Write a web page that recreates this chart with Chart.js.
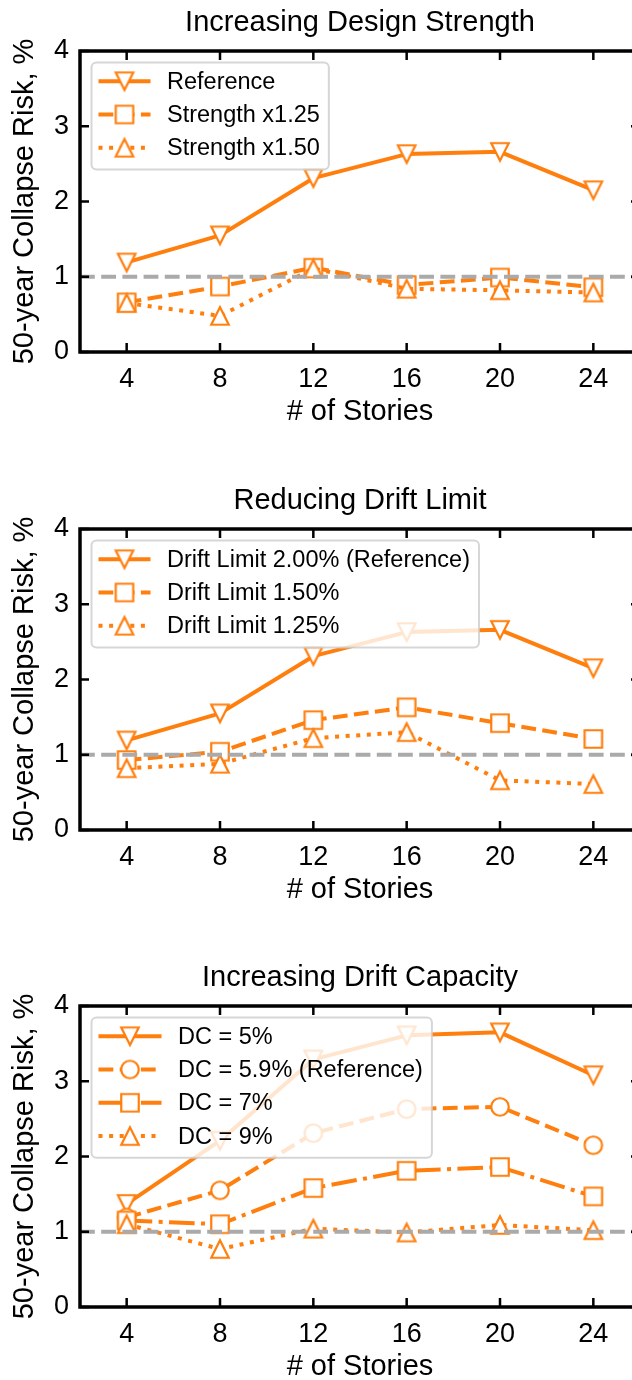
<!DOCTYPE html>
<html><head><meta charset="utf-8">
<script src="https://cdn.jsdelivr.net/npm/chart.js@4.4.1/dist/chart.umd.min.js"></script>
<style>
html,body{margin:0;padding:0;background:#fff;overflow:hidden;width:632px;height:1380px;}
#wrap{position:relative;width:632px;height:1380px;overflow:hidden;background:#fff;}
canvas{position:absolute;left:0;}
</style></head><body>
<div id="wrap">
<canvas id="c1" width="660" height="425" style="top:0px;width:660px;height:425px"></canvas>
<canvas id="c2" width="660" height="425" style="top:478px;width:660px;height:425px"></canvas>
<canvas id="c3" width="660" height="425" style="top:955px;width:660px;height:425px"></canvas>
</div>
<script>
// ---------------- data ----------------
const STORIES = [4, 8, 12, 16, 20, 24];
const X_TICKS = [4, 8, 12, 16, 20, 24];
const Y_TICKS = [0, 1, 2, 3, 4];
const X_RANGE = [2, 26];
const Y_RANGE = [0, 4];
const THRESHOLD = 1;

const TITLES = ['Increasing Design Strength', 'Reducing Drift Limit', 'Increasing Drift Capacity'];
const X_LABEL = '# of Stories';
const Y_LABEL = '50-year Collapse Risk, %';

// reference design (same in all panels)
const REFERENCE = [1.19, 1.55, 2.31, 2.63, 2.66, 2.15];
// panel 1
const STRENGTH_125 = [0.66, 0.87, 1.12, 0.89, 0.99, 0.86];
const STRENGTH_150 = [0.65, 0.48, 1.11, 0.84, 0.82, 0.79];
// panel 2
const DRIFT_LIMIT_150 = [0.93, 1.04, 1.46, 1.63, 1.42, 1.21];
const DRIFT_LIMIT_125 = [0.82, 0.88, 1.22, 1.30, 0.66, 0.61];
// panel 3
const DC_5 = [1.37, 2.21, 3.29, 3.61, 3.65, 3.08];
const DC_7 = [1.15, 1.10, 1.58, 1.81, 1.86, 1.47];
const DC_9 = [1.10, 0.77, 1.04, 0.99, 1.09, 1.02];

const LABELS_1 = ['Reference', 'Strength x1.25', 'Strength x1.50'];
const LABELS_2 = ['Drift Limit 2.00% (Reference)', 'Drift Limit 1.50%', 'Drift Limit 1.25%'];
const LABELS_3 = ['DC = 5%', 'DC = 5.9% (Reference)', 'DC = 7%', 'DC = 9%'];

// ---------------- style ----------------
const ORANGE = '#ff7f0e';
const GRAY = '#aaaaaa';
const FONT = "'Liberation Sans', Arial, Helvetica, sans-serif";
const LW = 4;
const DASHES = {
  solid: [],
  dashed: [3.7 * LW, 1.6 * LW],
  dotted: [1 * LW, 1.65 * LW],
  dashdot: [6.4 * LW, 1.6 * LW, 1 * LW, 1.6 * LW]
};
const MS = 17.5, MEW = 2.2;

function makeMarker(kind) {
  const S = 28, m = S / 2, h = MS / 2;
  const c = document.createElement('canvas');
  c.width = S; c.height = S;
  const g = c.getContext('2d');
  g.beginPath();
  if (kind === 'v') { g.moveTo(m, m + h); g.lineTo(m - h, m - h); g.lineTo(m + h, m - h); g.closePath(); }
  else if (kind === '^') { g.moveTo(m, m - h); g.lineTo(m + h, m + h); g.lineTo(m - h, m + h); g.closePath(); }
  else if (kind === 's') { g.rect(m - h, m - h, 2 * h, 2 * h); }
  else if (kind === 'o') { g.arc(m, m, h, 0, Math.PI * 2); }
  g.fillStyle = '#fff'; g.fill();
  g.lineWidth = MEW; g.lineJoin = 'miter'; g.strokeStyle = ORANGE; g.stroke();
  return c;
}
const MARKERS = { v: makeMarker('v'), '^': makeMarker('^'), s: makeMarker('s'), o: makeMarker('o') };

const PANELS = [
  { id: 'c1', title: TITLES[0], handleLen: 52, series: [
    { label: LABELS_1[0], values: REFERENCE, marker: 'v', dash: 'solid' },
    { label: LABELS_1[1], values: STRENGTH_125, marker: 's', dash: 'dashed' },
    { label: LABELS_1[2], values: STRENGTH_150, marker: '^', dash: 'dotted' }]},
  { id: 'c2', title: TITLES[1], handleLen: 52, series: [
    { label: LABELS_2[0], values: REFERENCE, marker: 'v', dash: 'solid' },
    { label: LABELS_2[1], values: DRIFT_LIMIT_150, marker: 's', dash: 'dashed' },
    { label: LABELS_2[2], values: DRIFT_LIMIT_125, marker: '^', dash: 'dotted' }]},
  { id: 'c3', title: TITLES[2], handleLen: 63, series: [
    { label: LABELS_3[0], values: DC_5, marker: 'v', dash: 'solid' },
    { label: LABELS_3[1], values: REFERENCE, marker: 'o', dash: 'dashed' },
    { label: LABELS_3[2], values: DC_7, marker: 's', dash: 'dashdot' },
    { label: LABELS_3[3], values: DC_9, marker: '^', dash: 'dotted' }]}
];

// ---------------- decorations plugin ----------------
const deco = {
  id: 'deco',
  afterDatasetsDraw(chart) {
    const ctx = chart.ctx, a = chart.chartArea;
    const xs = chart.scales.x, ys = chart.scales.y;
    ctx.save();
    ctx.strokeStyle = '#000'; ctx.lineWidth = 2.5; ctx.lineCap = 'butt';
    ctx.beginPath();
    X_TICKS.forEach(v => {
      const px = xs.getPixelForValue(v);
      ctx.moveTo(px, a.bottom); ctx.lineTo(px, a.bottom - 9);
      ctx.moveTo(px, a.top); ctx.lineTo(px, a.top + 9);
    });
    Y_TICKS.forEach(v => {
      const py = ys.getPixelForValue(v);
      ctx.moveTo(a.left, py); ctx.lineTo(a.left + 9, py);
      ctx.moveTo(a.right, py); ctx.lineTo(a.right - 9, py);
    });
    ctx.stroke();
    ctx.lineWidth = 3.5; ctx.lineJoin = 'miter';
    ctx.strokeRect(a.left, a.top, a.right - a.left, a.bottom - a.top);
    ctx.restore();
  },
  afterDraw(chart, args, opts) {
    const ctx = chart.ctx, a = chart.chartArea;
    const cx = (a.left + a.right) / 2;
    ctx.save();
    ctx.fillStyle = '#000';
    ctx.textAlign = 'center'; ctx.textBaseline = 'middle';
    ctx.font = `29px ${FONT}`;
    ctx.fillText(opts.title, cx, 23);
    ctx.fillText(X_LABEL, cx, a.bottom + 60);
    ctx.save();
    ctx.translate(25, (a.top + a.bottom) / 2);
    ctx.rotate(-Math.PI / 2);
    ctx.fillText(Y_LABEL, 0, 0);
    ctx.restore();

    // legend
    const series = opts.series;
    const fs = 23.5;
    ctx.font = `${fs}px ${FONT}`;
    const maxW = Math.max(...series.map(s => ctx.measureText(s.label).width));
    const bx = a.left + 11.5, by = a.top + 11.5;
    const pad = 7, hl = opts.handleLen, htp = 16.5, rowH = 33.3;
    const bw = pad + hl + htp + maxW + 9;
    const bh = 18.7 + (series.length - 1) * rowH + 21.7;
    const r = 5;
    ctx.beginPath();
    ctx.moveTo(bx + r, by);
    ctx.arcTo(bx + bw, by, bx + bw, by + bh, r);
    ctx.arcTo(bx + bw, by + bh, bx, by + bh, r);
    ctx.arcTo(bx, by + bh, bx, by, r);
    ctx.arcTo(bx, by, bx + bw, by, r);
    ctx.closePath();
    ctx.fillStyle = 'rgba(255,255,255,0.8)';
    ctx.fill();
    ctx.strokeStyle = 'rgba(204,204,204,0.8)'; ctx.lineWidth = 2;
    ctx.stroke();
    series.forEach((s, i) => {
      const ry = by + 18.7 + i * rowH;
      const x0 = bx + pad, x1 = x0 + hl;
      ctx.beginPath();
      ctx.setLineDash(DASHES[s.dash]);
      ctx.lineDashOffset = 0;
      ctx.strokeStyle = ORANGE; ctx.lineWidth = LW; ctx.lineCap = 'butt';
      ctx.moveTo(x0, ry); ctx.lineTo(x1, ry); ctx.stroke();
      ctx.setLineDash([]);
      const mk = MARKERS[s.marker];
      ctx.drawImage(mk, (x0 + x1) / 2 - mk.width / 2, ry - mk.height / 2);
      ctx.fillStyle = '#000'; ctx.textAlign = 'left'; ctx.textBaseline = 'middle';
      ctx.fillText(s.label, x1 + htp, ry + 1);
    });
    ctx.restore();
  }
};

// ---------------- build charts ----------------
PANELS.forEach(p => {
  const n = p.series.length;
  const datasets = p.series.map((s, i) => ({
    label: s.label,
    data: STORIES.map((x, k) => ({ x: x, y: s.values[k] })),
    borderColor: ORANGE,
    backgroundColor: '#fff',
    borderWidth: LW,
    borderDash: DASHES[s.dash],
    borderCapStyle: 'butt',
    borderJoinStyle: 'round',
    tension: 0,
    fill: false,
    pointStyle: MARKERS[s.marker],
    pointRadius: 9,
    pointHoverRadius: 9,
    order: n - i + 1
  }));
  datasets.push({
    label: 'threshold',
    data: X_RANGE.map(x => ({ x: x, y: THRESHOLD })),
    borderColor: GRAY,
    borderWidth: LW,
    borderDash: DASHES.dashed,
    borderCapStyle: 'butt',
    pointRadius: 0,
    fill: false,
    order: 0
  });
  new Chart(document.getElementById(p.id), {
    type: 'line',
    data: { datasets },
    options: {
      responsive: false,
      animation: false,
      events: [],
      devicePixelRatio: 1,
      layout: { padding: { top: 51, right: 20, left: 0, bottom: 0 } },
      plugins: {
        legend: { display: false },
        tooltip: { enabled: false },
        title: { display: false },
        deco: { title: p.title, series: p.series, handleLen: p.handleLen }
      },
      scales: {
        x: {
          type: 'linear', min: X_RANGE[0], max: X_RANGE[1],
          afterBuildTicks: sc => { sc.ticks = X_TICKS.map(v => ({ value: v })); },
          afterFit: sc => { sc.height = 73; },
          grid: { display: false, drawTicks: false },
          border: { display: false },
          ticks: { font: { family: FONT, size: 27 }, color: '#000', padding: 11, maxRotation: 0, autoSkip: false }
        },
        y: {
          type: 'linear', min: Y_RANGE[0], max: Y_RANGE[1],
          afterBuildTicks: sc => { sc.ticks = Y_TICKS.map(v => ({ value: v })); },
          afterFit: sc => { sc.width = 80; },
          grid: { display: false, drawTicks: false },
          border: { display: false },
          ticks: { font: { family: FONT, size: 27 }, color: '#000', padding: 11 }
        }
      }
    },
    plugins: [deco]
  });
});
</script>
</body></html>
